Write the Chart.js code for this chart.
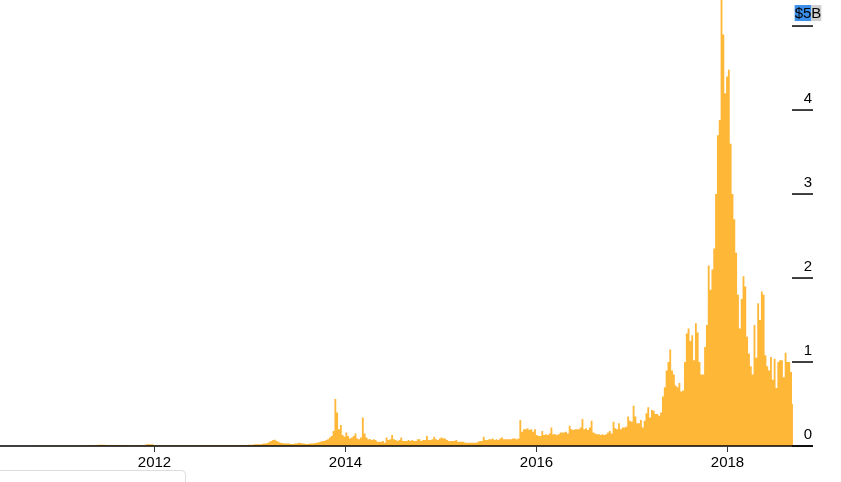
<!DOCTYPE html>
<html>
<head>
<meta charset="utf-8">
<script src="https://cdn.jsdelivr.net/npm/chart.js@4/dist/chart.umd.min.js"></script>
<style>
  html, body { margin: 0; padding: 0; background: #ffffff; }
  #c { display: block; }
</style>
</head>
<body>
<canvas id="c" width="841" height="482"></canvas>
<script>
// ---- DATA (trading volume, billions of USD) ----
// Monthly volumes from July 2010 to December 2012
const earlyStart = { year: 2010, month: 6 }; // July 2010 (0-based month)
const earlyMonthly = [
  0.001, 0.001, 0.001, 0.002, 0.003, 0.002,
  0.002, 0.003, 0.003, 0.005, 0.010, 0.015, 0.012, 0.012, 0.010, 0.006, 0.008, 0.020,
  0.008, 0.006, 0.005, 0.005, 0.006, 0.007, 0.008, 0.010, 0.009, 0.009, 0.010, 0.012
];
// Weekly volumes starting week of 2013-01-07
const weeklyStart = { year: 2013, month: 0, day: 7 };
const weeklyVolume = [
  0.015,0.015,0.02,0.02,0.02,0.02,0.025,0.03,0.03,0.035,
  0.05,0.06,0.07,0.075,0.06,0.05,0.04,0.035,0.03,0.03,
  0.03,0.03,0.025,0.025,0.03,0.03,0.04,0.035,0.03,0.03,
  0.025,0.025,0.03,0.03,0.03,0.035,0.04,0.045,0.05,0.06,
  0.06,0.07,0.08,0.1,0.12,0.18,0.56,0.4,0.2,0.25,
  0.13,0.11,0.16,0.12,0.09,0.1,0.12,0.15,0.09,0.08,
  0.1,0.34,0.15,0.1,0.08,0.08,0.07,0.08,0.07,0.05,
  0.05,0.05,0.06,0.04,0.1,0.07,0.08,0.13,0.08,0.07,
  0.06,0.07,0.1,0.06,0.06,0.06,0.07,0.06,0.07,0.06,
  0.06,0.08,0.08,0.06,0.07,0.07,0.12,0.07,0.07,0.08,
  0.11,0.08,0.07,0.09,0.1,0.09,0.09,0.07,0.06,0.06,
  0.06,0.06,0.07,0.05,0.05,0.05,0.05,0.04,0.04,0.04,
  0.04,0.04,0.04,0.04,0.05,0.06,0.06,0.11,0.07,0.07,
  0.08,0.08,0.09,0.07,0.08,0.07,0.09,0.1,0.08,0.08,
  0.08,0.08,0.08,0.09,0.09,0.08,0.09,0.31,0.17,0.2,
  0.2,0.21,0.19,0.2,0.17,0.2,0.13,0.12,0.12,0.18,
  0.13,0.14,0.13,0.15,0.22,0.14,0.14,0.13,0.14,0.16,
  0.16,0.16,0.17,0.15,0.24,0.2,0.19,0.2,0.2,0.2,
  0.22,0.32,0.2,0.21,0.19,0.22,0.3,0.16,0.15,0.14,
  0.14,0.13,0.14,0.13,0.14,0.16,0.18,0.15,0.29,0.21,
  0.2,0.27,0.2,0.22,0.22,0.23,0.35,0.3,0.29,0.48,
  0.35,0.27,0.27,0.31,0.22,0.3,0.39,0.46,0.34,0.43,
  0.42,0.38,0.38,0.36,0.4,0.59,0.7,0.9,1.0,1.15,
  0.9,0.85,0.72,0.7,0.75,0.65,0.66,1.0,1.34,1.4,
  1.25,1.32,1.02,1.46,1.35,1.0,0.85,0.85,1.18,1.44,
  2.15,1.86,2.1,2.35,3.0,3.7,3.88,5.4,4.9,4.2,
  4.4,4.48,3.6,3.0,2.7,2.3,1.8,1.4,1.75,2.02,
  1.9,1.3,1.1,0.95,0.85,1.44,1.05,1.7,1.5,1.84,
  1.8,1.08,0.95,0.9,1.06,0.79,1.04,0.69,1.0,1.02,
  1.02,0.82,1.11,1.0,1.0,0.88,0.5
];
const xTickYears = [2012, 2014, 2016, 2018];
const yTickValues = [0, 1, 2, 3, 4, 5];
const yTickLabels = ['0', '1', '2', '3', '4', '$5B'];
const xRange = { min: 2010.387, max: 2018.89 };
const yRange = { min: 0, max: 5.31 };

// ---- helpers ----
function decYear(ms) {
  const d = new Date(ms);
  const y = d.getUTCFullYear();
  const s = Date.UTC(y, 0, 1), e = Date.UTC(y + 1, 0, 1);
  return y + (ms - s) / (e - s);
}
const points = [];
earlyMonthly.forEach((v, k) => {
  points.push({ x: decYear(Date.UTC(earlyStart.year, earlyStart.month + k, 15)), y: v });
});
const w0 = Date.UTC(weeklyStart.year, weeklyStart.month, weeklyStart.day);
weeklyVolume.forEach((v, i) => {
  points.push({ x: decYear(w0 + i * 7 * 864e5), y: v });
});

const FONT = '"Liberation Sans", Arial, Helvetica, sans-serif';
const FILL = 'rgb(255,183,56)';

const axesPlugin = {
  id: 'customAxes',
  afterDatasetsDraw(chart) {
    const ctx = chart.ctx;
    const xs = chart.scales.x, ys = chart.scales.y;
    const y0 = ys.getPixelForValue(0);
    ctx.save();
    // bottom-left rounded box outline
    ctx.strokeStyle = '#dddddd';
    ctx.lineWidth = 1;
    ctx.beginPath();
    ctx.moveTo(-5, 470.5);
    ctx.lineTo(181.5, 470.5);
    ctx.arcTo(185.5, 470.5, 185.5, 474.5, 4);
    ctx.lineTo(185.5, 490);
    ctx.stroke();

    // x axis line
    ctx.strokeStyle = '#000000';
    ctx.lineWidth = 1.5;
    ctx.beginPath();
    ctx.moveTo(0, y0);
    ctx.lineTo(chart.chartArea.right + 1, y0);
    ctx.stroke();
    // x ticks & labels
    ctx.font = '15px ' + FONT;
    ctx.fillStyle = '#000000';
    ctx.textAlign = 'center';
    ctx.textBaseline = 'alphabetic';
    xTickYears.forEach(yr => {
      const px = Math.round(xs.getPixelForValue(yr)) + 0.5;
      ctx.strokeStyle = '#333333';
      ctx.lineWidth = 1;
      ctx.beginPath();
      ctx.moveTo(px, y0);
      ctx.lineTo(px, y0 + 6);
      ctx.stroke();
      ctx.fillText(String(yr), px, y0 + 21);
    });
    // y ticks & labels
    const right = chart.chartArea.right + 1;
    yTickValues.forEach((v, i) => {
      const py = ys.getPixelForValue(v);
      ctx.strokeStyle = '#000000';
      ctx.lineWidth = 1.5;
      ctx.beginPath();
      ctx.moveTo(right - 21, py);
      ctx.lineTo(right, py);
      ctx.stroke();
      const label = yTickLabels[i];
      const cx = right - 5;
      if (label.startsWith('$')) {
        const wAll = ctx.measureText(label).width;
        const wSel = ctx.measureText(label.slice(0, 2)).width;
        const left = cx - wAll / 2;
        ctx.fillStyle = '#3b8eea';
        ctx.fillRect(left, py - 21, wSel, 16);
        ctx.fillStyle = '#cfcfcf';
        ctx.fillRect(left + wSel, py - 21, wAll - wSel, 16);
        ctx.fillStyle = '#000000';
        ctx.textAlign = 'left';
        ctx.fillText(label, left, py - 8);
      } else {
        ctx.fillStyle = '#000000';
        ctx.textAlign = 'center';
        ctx.fillText(label, cx, py - 7.5);
      }
    });
    ctx.restore();
  }
};

new Chart(document.getElementById('c'), {
  type: 'line',
  data: {
    datasets: [{
      data: points,
      stepped: 'middle',
      fill: 'origin',
      backgroundColor: FILL,
      borderColor: FILL,
      borderWidth: 0,
      pointRadius: 0,
      pointHoverRadius: 0
    }]
  },
  options: {
    responsive: false,
    animation: false,
    devicePixelRatio: 1,
    layout: { padding: { left: 0, right: 29, top: 0, bottom: 36 } },
    plugins: { legend: { display: false }, tooltip: { enabled: false } },
    scales: {
      x: { type: 'linear', min: xRange.min, max: xRange.max, display: false },
      y: { type: 'linear', min: yRange.min, max: yRange.max, display: false }
    }
  },
  plugins: [axesPlugin]
});
</script>
</body>
</html>
